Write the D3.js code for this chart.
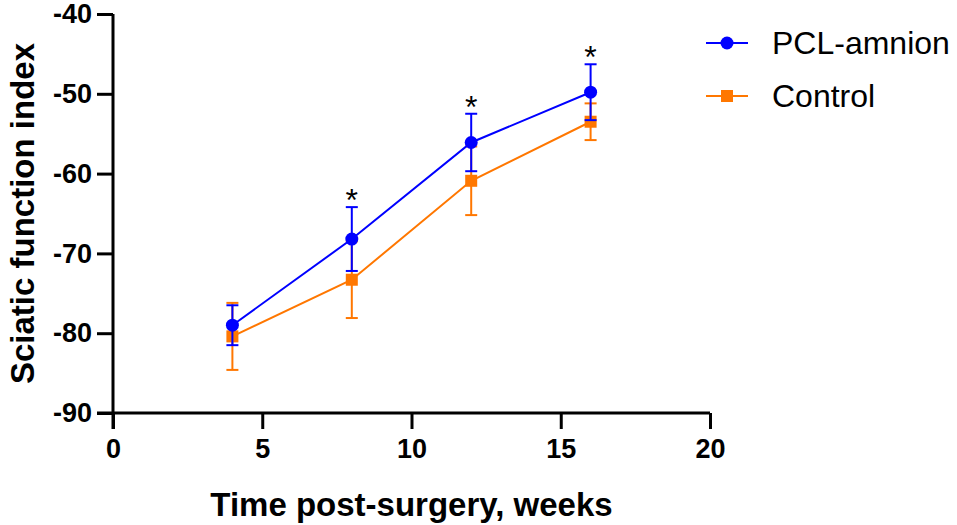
<!DOCTYPE html>
<html>
<head>
<meta charset="utf-8">
<script src="https://cdn.jsdelivr.net/npm/d3@7"></script>
<style>
    body { margin: 0; background: #fff; }
    svg { display: block; font-family: Arial, "Liberation Sans", sans-serif; }
</style>
</head>
<body>
<div id="chart"></div>
<script>
// data (mean and SD per time point)
const weeks = [4, 8, 12, 16];
const pclMean = [-79.0, -68.2, -56.1, -49.8];
const pclSd = [2.5, 4.0, 3.6, 3.5];
const ctrlMean = [-80.4, -73.3, -60.9, -53.5];
const ctrlSd = [4.2, 4.8, 4.3, 2.3];
const significant = [false, true, true, true];
const xTicks = [0, 5, 10, 15, 20];
const yTicks = [-90, -80, -70, -60, -50, -40];

const width = 957, height = 525;
const margin = {top: 14, right: 247, bottom: 112, left: 113};

const svg = d3.select("#chart").append("svg")
    .attr("width", width)
    .attr("height", height);

const x = d3.scaleLinear().domain([0, 20]).range([margin.left, width - margin.right]);
const y = d3.scaleLinear().domain([-90, -40]).range([height - margin.bottom, margin.top]);

const series = [
    {name: "Control", color: "#ff7700", mean: ctrlMean, sd: ctrlSd, shape: "square"},
    {name: "PCL-amnion", color: "#0000ff", mean: pclMean, sd: pclSd, shape: "circle"}
];

// axes (plain hyphen for negatives, like the original)
const xAxis = svg.append("g")
    .attr("transform", "translate(0," + y(-90) + ")")
    .call(d3.axisBottom(x).tickValues(xTicks).tickSize(16).tickPadding(10).tickFormat(d => String(d)));
const yAxis = svg.append("g")
    .attr("transform", "translate(" + x(0) + ",0)")
    .call(d3.axisLeft(y).tickValues(yTicks).tickSize(16).tickPadding(5).tickFormat(d => String(d)));

[xAxis, yAxis].forEach(g => {
    g.select(".domain").attr("stroke", "#000").attr("stroke-width", 3);
    g.selectAll(".tick line").attr("stroke", "#000").attr("stroke-width", 3);
    g.selectAll(".tick text")
        .attr("fill", "#000")
        .style("font-size", "27px")
        .style("font-weight", "bold")
        .style("font-family", "Arial, 'Liberation Sans', sans-serif");
});
// x ticks hang below only
xAxis.selectAll(".tick line").attr("y1", 0).attr("y2", 16);
xAxis.select(".domain").attr("d", "M" + (x(0) - 16) + ",0H" + x(20));
yAxis.select(".domain").attr("d", "M0," + y(-40) + "V" + (y(-90) + 16));

// axis titles
svg.append("text")
    .attr("x", x(10))
    .attr("y", 516)
    .attr("text-anchor", "middle")
    .style("font-size", "33px")
    .style("font-weight", "bold")
    .text("Time post-surgery, weeks");

svg.append("text")
    .attr("transform", "translate(34," + y(-65) + ") rotate(-90)")
    .attr("text-anchor", "middle")
    .style("font-size", "33px")
    .style("font-weight", "bold")
    .text("Sciatic function index");

const line = d3.line().x(d => x(d.w)).y(d => y(d.m));
const cap = 6;

series.forEach(s => {
    const pts = weeks.map((w, i) => ({w: w, m: s.mean[i], sd: s.sd[i]}));
    const g = svg.append("g");

    g.append("path")
        .datum(pts)
        .attr("fill", "none")
        .attr("stroke", s.color)
        .attr("stroke-width", 2)
        .attr("d", line);

    const eb = g.selectAll(".err").data(pts).enter().append("g");
    eb.append("line")
        .attr("x1", d => x(d.w)).attr("x2", d => x(d.w))
        .attr("y1", d => y(d.m + d.sd)).attr("y2", d => y(d.m - d.sd))
        .attr("stroke", s.color).attr("stroke-width", 2);
    eb.append("line")
        .attr("x1", d => x(d.w) - cap).attr("x2", d => x(d.w) + cap)
        .attr("y1", d => y(d.m + d.sd)).attr("y2", d => y(d.m + d.sd))
        .attr("stroke", s.color).attr("stroke-width", 2);
    eb.append("line")
        .attr("x1", d => x(d.w) - cap).attr("x2", d => x(d.w) + cap)
        .attr("y1", d => y(d.m - d.sd)).attr("y2", d => y(d.m - d.sd))
        .attr("stroke", s.color).attr("stroke-width", 2);

    if (s.shape === "circle") {
        g.selectAll(".pt").data(pts).enter().append("circle")
            .attr("cx", d => x(d.w)).attr("cy", d => y(d.m))
            .attr("r", 6.5)
            .attr("fill", s.color);
    } else {
        g.selectAll(".pt").data(pts).enter().append("rect")
            .attr("x", d => x(d.w) - 6).attr("y", d => y(d.m) - 6)
            .attr("width", 12).attr("height", 12)
            .attr("fill", s.color);
    }
});

// significance stars above the PCL-amnion error bars
svg.selectAll(".star")
    .data(weeks.map((w, i) => ({w: w, top: pclMean[i] + pclSd[i], sig: significant[i]})).filter(d => d.sig))
    .enter().append("text")
    .attr("x", d => x(d.w))
    .attr("y", d => y(d.top) + 4)
    .attr("text-anchor", "middle")
    .style("font-size", "32px")
    .text("*");

// legend
const legend = svg.append("g").attr("transform", "translate(706,43)");
[series[1], series[0]].forEach((s, i) => {
    const row = legend.append("g").attr("transform", "translate(0," + (i * 53) + ")");
    row.append("line")
        .attr("x1", 0).attr("x2", 42)
        .attr("stroke", s.color).attr("stroke-width", 2);
    if (s.shape === "circle") {
        row.append("circle").attr("cx", 21).attr("r", 6.5).attr("fill", s.color);
    } else {
        row.append("rect").attr("x", 15).attr("y", -6).attr("width", 12).attr("height", 12).attr("fill", s.color);
    }
    row.append("text")
        .attr("x", 66)
        .attr("dy", "0.35em")
        .style("font-size", "32px")
        .text(s.name);
});
</script>
</body>
</html>
